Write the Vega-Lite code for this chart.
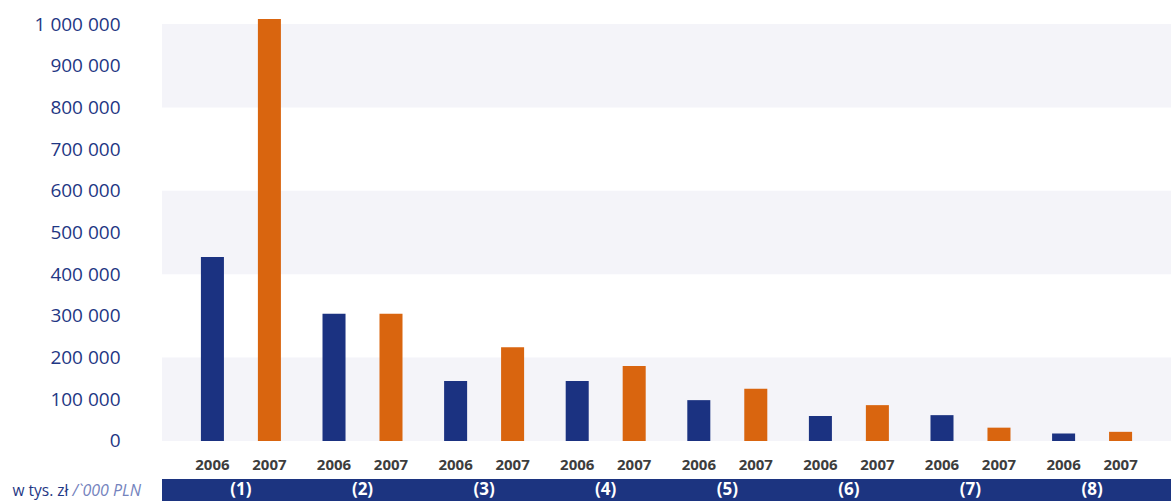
{
  "$schema": "https://vega.github.io/schema/vega-lite/v6.json",
  "autosize": {"type": "none"},
  "padding": {"left": 162, "top": 24, "right": 0, "bottom": 0},
  "width": 1009,
  "height": 477,
  "config": {
    "view": {"stroke": null},
    "font": "Open Sans",
    "locale": {"number": {"decimal": ",", "thousands": " ", "grouping": [3], "currency": ["", " zł"]}},
    "axisY": {
      "format": ",d", "ticks": false, "domain": false, "grid": false,
      "labelFontSize": 19, "labelColor": "#1f3784", "labelPadding": 42, "labelBaseline": "middle",
      "titleFontSize": 15.5, "titleFontWeight": "normal", "titleColor": "#1f3784",
      "titleAngle": 0, "titleAlign": "left", "titleBaseline": "middle",
      "titleX": -150, "titleY": 466
    }
  },
  "datasets": {
    "bands": [
      {"lo": 0, "hi": 200000},
      {"lo": 400000, "hi": 600000},
      {"lo": 800000, "hi": 1000000}
    ],
    "values": [
      {"group": "(1)", "year": "2006", "value": 441000},
      {"group": "(1)", "year": "2007", "value": 1012000},
      {"group": "(2)", "year": "2006", "value": 305000},
      {"group": "(2)", "year": "2007", "value": 305000},
      {"group": "(3)", "year": "2006", "value": 144000},
      {"group": "(3)", "year": "2007", "value": 225000},
      {"group": "(4)", "year": "2006", "value": 144000},
      {"group": "(4)", "year": "2007", "value": 180000},
      {"group": "(5)", "year": "2006", "value": 98000},
      {"group": "(5)", "year": "2007", "value": 125000},
      {"group": "(6)", "year": "2006", "value": 60000},
      {"group": "(6)", "year": "2007", "value": 86000},
      {"group": "(7)", "year": "2006", "value": 62000},
      {"group": "(7)", "year": "2007", "value": 32000},
      {"group": "(8)", "year": "2006", "value": 18000},
      {"group": "(8)", "year": "2007", "value": 22000}
    ]
  },
  "layer": [
    {
      "data": {"name": "bands"},
      "mark": {"type": "rect", "color": "#f4f4f9"},
      "encoding": {
        "y": {
          "field": "lo", "type": "quantitative", "title": "w tys. zł",
          "scale": {"domain": [-143885, 1000000], "nice": false, "zero": false},
          "axis": {"values": [0, 100000, 200000, 300000, 400000, 500000, 600000, 700000, 800000, 900000, 1000000]}
        },
        "y2": {"field": "hi"}
      }
    },
    {
      "data": {"name": "values"},
      "mark": {"type": "rect", "color": "#1c3480"},
      "transform": [{"filter": "datum.year === '2006'"}],
      "encoding": {
        "y": {
          "datum": -91000, "type": "quantitative", "title": "w tys. zł",
          "axis": {"values": [0, 100000, 200000, 300000, 400000, 500000, 600000, 700000, 800000, 900000, 1000000]}
        },
        "y2": {"datum": -143885}
      }
    },
    {
      "data": {"name": "values"},
      "mark": {"type": "bar"},
      "encoding": {
        "x": {
          "field": "group", "type": "nominal", "sort": null,
          "scale": {"paddingInner": 0, "paddingOuter": 0.149},
          "axis": {
            "labels": false, "ticks": false, "domain": false, "grid": false,
            "title": "/`000 PLN", "titleFont": "Open Sans", "titleFontSize": 16,
            "titleFontStyle": "italic", "titleFontWeight": "normal", "titleColor": "#7483bd",
            "titleAlign": "left", "titleBaseline": "middle",
            "titleX": -90, "titleY": -11
          }
        },
        "xOffset": {"field": "year", "type": "nominal", "scale": {"paddingInner": 0.596, "paddingOuter": 0.365}},
        "y": {
          "field": "value", "type": "quantitative", "title": "w tys. zł",
          "axis": {"values": [0, 100000, 200000, 300000, 400000, 500000, 600000, 700000, 800000, 900000, 1000000]}
        },
        "color": {
          "field": "year", "type": "nominal",
          "scale": {"domain": ["2006", "2007"], "range": ["#1b3281", "#d9650f"]},
          "legend": null
        }
      }
    },
    {
      "data": {"name": "values"},
      "mark": {"type": "text", "fontSize": 15, "fontWeight": "bold", "color": "#3d3d3d", "baseline": "middle"},
      "encoding": {
        "x": {"field": "group", "type": "nominal", "sort": null},
        "xOffset": {"field": "year", "type": "nominal"},
        "y": {
          "datum": -57000, "type": "quantitative", "title": "w tys. zł",
          "axis": {"values": [0, 100000, 200000, 300000, 400000, 500000, 600000, 700000, 800000, 900000, 1000000]}
        },
        "text": {"field": "year"}
      }
    },
    {
      "data": {"name": "values"},
      "mark": {"type": "text", "fontSize": 17, "fontWeight": "bold", "color": "#ffffff", "baseline": "middle"},
      "transform": [{"filter": "datum.year === '2006'"}],
      "encoding": {
        "x": {"field": "group", "type": "nominal", "sort": null},
        "y": {
          "datum": -117500, "type": "quantitative", "title": "w tys. zł",
          "axis": {"values": [0, 100000, 200000, 300000, 400000, 500000, 600000, 700000, 800000, 900000, 1000000]}
        },
        "text": {"field": "group"}
      }
    }
  ]
}
